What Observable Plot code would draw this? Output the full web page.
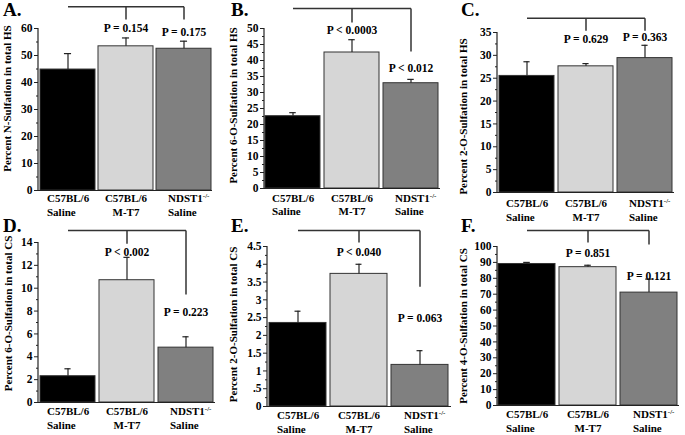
<!DOCTYPE html>
<html>
<head>
<meta charset="utf-8">
<script src="https://cdn.jsdelivr.net/npm/d3@7"></script>
<script src="https://cdn.jsdelivr.net/npm/@observablehq/plot@0.6"></script>
<style>
  html, body { margin: 0; padding: 0; background: #fff; }
  #fig { position: relative; width: 685px; height: 435px; background: #fff; font-family: "Liberation Serif", "Times New Roman", serif; overflow: hidden; }
  .letter { position: absolute; font-size: 19px; font-weight: bold; line-height: 1.1; color: #000; }
  .panel { position: absolute; }
</style>
</head>
<body>
<div id="fig"></div>
<script>
// ---- categories ----
const groups = ["C57BL/6 Saline", "C57BL/6 M-T7", "NDST1-/- Saline"];
const groupLabels = ["C57BL/6\nSaline", "C57BL/6\nM-T7", "NDST1\nSaline"];
const barColors = ["#000000", "#d6d6d6", "#808080"];

// ---- series values (mean, SEM) ----
const nSulfHS = [44.8, 53.4, 52.5];
const nSulfHSErr = [5.9, 3.1, 2.8];
const sixOSulfHS = [22.6, 42.5, 32.9];
const sixOSulfHSErr = [1.1, 4.0, 1.2];
const twoOSulfHS = [25.5, 27.6, 29.4];
const twoOSulfHSErr = [3.1, 0.6, 2.8];
const sixOSulfCS = [2.3, 10.7, 4.8];
const sixOSulfCSErr = [0.65, 2.0, 0.95];
const twoOSulfCS = [2.35, 3.73, 1.17];
const twoOSulfCSErr = [0.33, 0.27, 0.40];
const fourOSulfCS = [89.0, 87.0, 71.0];
const fourOSulfCSErr = [1.0, 1.2, 8.5];

// ---- p values ----
const pA = ["P = 0.154", "P = 0.175"];
const pB = ["P < 0.0003", "P < 0.012"];
const pC = ["P = 0.629", "P = 0.363"];
const pD = ["P < 0.002", "P = 0.223"];
const pE = ["P < 0.040", "P = 0.063"];
const pF = ["P = 0.851", "P = 0.121"];

// ---- axis titles ----
const yTitles = [
  "Percent N-Sulfation in total HS",
  "Percent 6-O-Sulfation in total HS",
  "Percent 2-O-Sulfation in total HS",
  "Percent 6-O-Sulfation in total CS",
  "Percent 2-O-Sulfation in total CS",
  "Percent 4-O-Sulfation in total CS"
];
const panelLetters = ["A.", "B.", "C.", "D.", "E.", "F."];

// ---- tick values / labels ----
const ticksA = [0, 10, 20, 30, 40, 50, 60];
const ticksB = [0, 5, 10, 15, 20, 25, 30, 35, 40, 45, 50];
const ticksC = [0, 5, 10, 15, 20, 25, 30, 35];
const ticksD = [0, 2, 4, 6, 8, 10, 12, 14];
const ticksE = [0, 0.5, 1, 1.5, 2, 2.5, 3, 3.5, 4, 4.5];
const tickLabelsE = ["0", ".5", "1", "1.5", "2", "2.5", "3", "3.5", "4", "4.5"];
const ticksF = [0, 10, 20, 30, 40, 50, 60, 70, 80, 90, 100];

// ---- panel layout (pixels) and annotation heights (data units) ----
const panels = [
  {values: nSulfHS, errs: nSulfHSErr, p: pA, ticks: ticksA, minor: 5, ymax: 60,
   left: 0, top: 0, width: 230, height: 217, mL: 38, mR: 18, mT: 28, mB: 27,
   bracket: [68.1, 63.3, 63.3], pY: [60, 58.5], labDy: 14.4, titleDx: -31, titleDy: -11, letter: [3, 0]},
  {values: sixOSulfHS, errs: sixOSulfHSErr, p: pB, ticks: ticksB, minor: 2.5, ymax: 50,
   left: 225, top: 0, width: 230, height: 217, mL: 39, mR: 15, mT: 28, mB: 29,
   bracket: [56.25, 51.9, 42.8], pY: [49.4, 37.5], labDy: 15.5, titleDx: -31, titleDy: -3, letter: [231, 0]},
  {values: twoOSulfHS, errs: twoOSulfHSErr, p: pC, ticks: ticksC, minor: 2.5, ymax: 35,
   left: 455, top: 0, width: 230, height: 217, mL: 42, mR: 11, mT: 32, mB: 25,
   bracket: [38.1, 35.4, 35.4], pY: [33.5, 33.9], labDy: 17.0, titleDx: -34, titleDy: 4, letter: [461, 0]},
  {values: sixOSulfCS, errs: sixOSulfCSErr, p: pD, ticks: ticksD, minor: 1, ymax: 14,
   left: 0, top: 217, width: 230, height: 218, mL: 38, mR: 15, mT: 25, mB: 33,
   bracket: [15.05, 13.9, 9.45], pY: [13.1, 7.9], labDy: 15.2, titleDx: -30, titleDy: -9, letter: [3, 216]},
  {values: twoOSulfCS, errs: twoOSulfCSErr, p: pE, ticks: ticksE, tickLabels: tickLabelsE, minor: 0.25, ymax: 4.5,
   left: 225, top: 217, width: 230, height: 218, mL: 42, mR: 4, mT: 29, mB: 29,
   bracket: [4.95, 4.61, 3.37], pY: [4.33, 2.47], labDy: 15.0, titleDx: -34, titleDy: -2, letter: [231, 216]},
  {values: fourOSulfCS, errs: fourOSulfCSErr, p: pF, ticks: ticksF, minor: 5, ymax: 100,
   left: 455, top: 217, width: 230, height: 218, mL: 42, mR: 6, mT: 29, mB: 30,
   bracket: [110, 102.5, 101.3], pY: [95.6, 81.5], labDy: 15.2, titleDx: -34, titleDy: 0, letter: [461, 216]}
];

const fig = document.getElementById("fig");
const svgNS = "http://www.w3.org/2000/svg";
const ink = "#222";
const font = "Liberation Serif";

panels.forEach((cfg, k) => {
  const rows = groups.map((g, i) => ({
    group: g, label: groupLabels[i], color: barColors[i],
    value: cfg.values[i], hi: cfg.values[i] + cfg.errs[i]
  }));
  const pi = 0.06, po = 0.02;
  const frameW = cfg.width - cfg.mL - cfg.mR;
  const step = frameW / (3 - pi + 2 * po);
  const bw = step * (1 - pi);
  const capInset = (bw - 7) / 2;

  const minorTicks = d3.range(0, cfg.ymax + 1e-9, cfg.minor).filter(v => !cfg.ticks.some(t => Math.abs(t - v) < 1e-9));
  const tickLabel = d => {
    const i = cfg.ticks.findIndex(t => Math.abs(t - d) < 1e-9);
    return cfg.tickLabels ? cfg.tickLabels[i] : String(cfg.ticks[i]);
  };

  const links = [
    {x1: groups[0], y1: cfg.bracket[0], x2: groups[2], y2: cfg.bracket[0]},
    {x1: groups[1], y1: cfg.bracket[0], x2: groups[1], y2: cfg.bracket[1]},
    {x1: groups[2], y1: cfg.bracket[0], x2: groups[2], y2: cfg.bracket[2]}
  ];
  const pRows = [
    {group: groups[1], y: cfg.pY[0], text: cfg.p[0]},
    {group: groups[2], y: cfg.pY[1], text: cfg.p[1]}
  ];
  const labelDx = [-21, 0, -16];
  const labelAnchor = ["start", "middle", "start"];

  const leftLine = (index, scales, values, dims) => {
    const l = document.createElementNS(svgNS, "line");
    l.setAttribute("x1", dims.marginLeft);
    l.setAttribute("x2", dims.marginLeft);
    l.setAttribute("y1", dims.marginTop);
    l.setAttribute("y2", dims.height - dims.marginBottom + 0.5);
    l.setAttribute("stroke", ink);
    l.setAttribute("stroke-width", 1.2);
    return l;
  };

  const plot = Plot.plot({
    width: cfg.width, height: cfg.height,
    marginLeft: cfg.mL, marginRight: cfg.mR, marginTop: cfg.mT, marginBottom: cfg.mB,
    style: {background: "transparent", overflow: "visible", fontFamily: font, fontWeight: "bold", fontSize: "11px", color: "#000"},
    x: {domain: groups, paddingInner: pi, paddingOuter: po, axis: null},
    y: {domain: [0, cfg.ymax], axis: null},
    marks: [
      Plot.barY(rows, {x: "group", y: "value", fill: "color", stroke: "#333", strokeWidth: 1}),
      Plot.ruleX(rows, {x: "group", y1: "value", y2: "hi", stroke: ink, strokeWidth: 1.2}),
      Plot.tickY(rows, {x: "group", y: "hi", stroke: ink, strokeWidth: 1.2, insetLeft: capInset, insetRight: capInset}),
      Plot.ruleY([0], {stroke: ink, strokeWidth: 1.2}),
      leftLine,
      Plot.axisY({ticks: cfg.ticks, tickSize: 4, tickPadding: 2, tickFormat: tickLabel, stroke: ink,
                  fontSize: 11.5, fontWeight: "bold", fill: "#000"}),
      Plot.axisY({ticks: minorTicks, tickSize: 2, tickFormat: () => "", stroke: ink}),
      ...rows.map((r, i) => Plot.text([r], {x: "group", y: () => 0, text: "label", dy: cfg.labDy, dx: labelDx[i],
        textAnchor: labelAnchor[i], lineAnchor: "middle", lineHeight: 1.25, fontSize: 11, fontWeight: "bold", fill: "#000"})),
      Plot.link(links, {x1: "x1", y1: "y1", x2: "x2", y2: "y2", stroke: "#333", strokeWidth: 1.5}),
      Plot.text(pRows, {x: "group", y: "y", text: "text", fontSize: 11.5, fontWeight: "bold", fill: "#000", lineAnchor: "middle"}),
      Plot.text([yTitles[k]], {frameAnchor: "left", rotate: -90, dx: cfg.titleDx, dy: cfg.titleDy,
        fontSize: 11, fontWeight: "bold", fill: "#000", lineAnchor: "middle", textAnchor: "middle"})
    ]
  });

  // superscript -/- on NDST1
  plot.querySelectorAll("tspan, text").forEach(el => {
    if (el.childNodes.length === 1 && el.childNodes[0].nodeType === 3 && el.textContent === "NDST1") {
      const sup = document.createElementNS(svgNS, "tspan");
      sup.setAttribute("font-size", "7px");
      sup.setAttribute("baseline-shift", "super");
      sup.textContent = "-/-";
      el.appendChild(sup);
    }
  });

  const wrap = document.createElement("div");
  wrap.className = "panel";
  wrap.style.left = cfg.left + "px";
  wrap.style.top = cfg.top + "px";
  wrap.appendChild(plot);
  fig.appendChild(wrap);

  const let_ = document.createElement("div");
  let_.className = "letter";
  let_.style.left = cfg.letter[0] + "px";
  let_.style.top = cfg.letter[1] + "px";
  let_.textContent = panelLetters[k];
  fig.appendChild(let_);
});
</script>
</body>
</html>
